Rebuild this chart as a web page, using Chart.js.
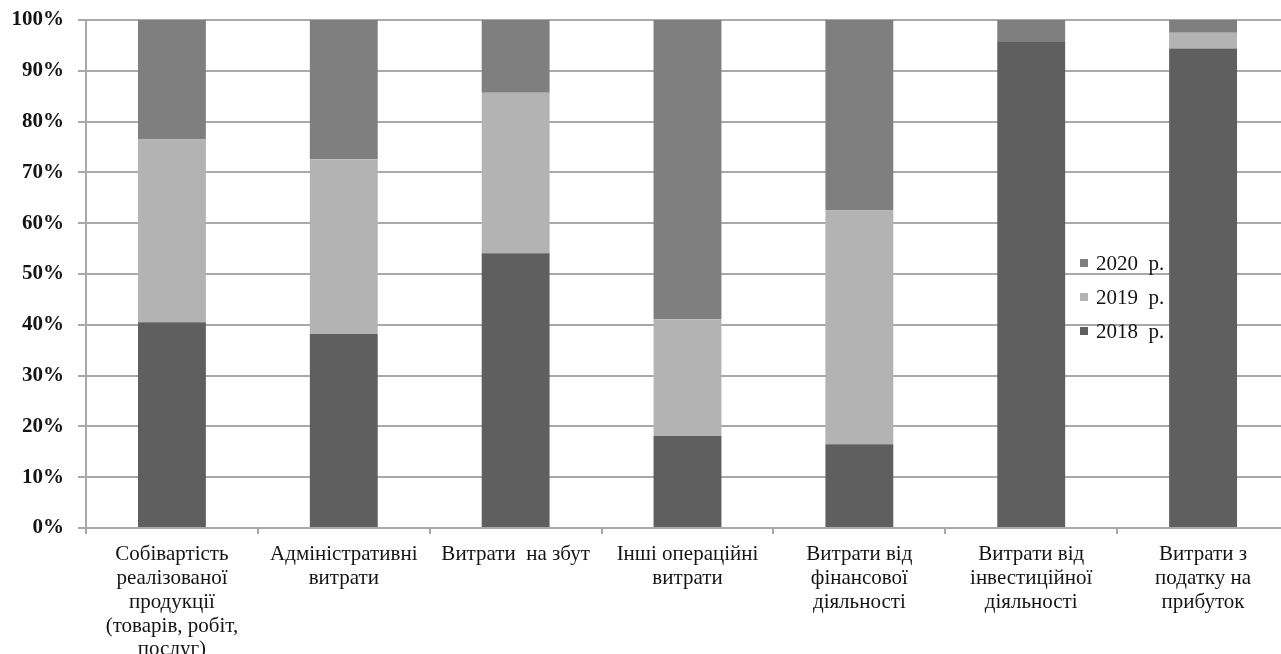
<!DOCTYPE html>
<html lang="uk">
<head>
<meta charset="utf-8">
<title>Структура витрат, 2018–2020 рр.</title>
<script src="https://cdn.jsdelivr.net/npm/chart.js@4.4.1/dist/chart.umd.min.js"></script>
<style>
  html, body { margin: 0; padding: 0; background: #ffffff; overflow: hidden; }
  #wrap { position: relative; width: 1289px; height: 654px; }
</style>
</head>
<body>
<div id="wrap"><canvas id="chart"></canvas></div>
<script>
// Cost categories (each label is split into the lines it is printed on)
const categories = [
  ['Собівартість', 'реалізованої', 'продукції', '(товарів, робіт,', 'послуг)'],
  ['Адміністративні', 'витрати'],
  ['Витрати  на збут'],
  ['Інші операційні', 'витрати'],
  ['Витрати від', 'фінансової', 'діяльності'],
  ['Витрати від', 'інвестиційної', 'діяльності'],
  ['Витрати з', 'податку на', 'прибуток']
];

// Share of each year in the three-year total, %
const share2018 = [40.5, 38.2, 54.1, 18.1, 16.5, 95.8, 94.4];
const share2019 = [36.0, 34.4, 31.6, 23.0, 46.0, 0.0, 3.1];
const share2020 = [23.5, 27.4, 14.3, 58.9, 37.5, 4.2, 2.5];

const seriesNames = ['2018  р.', '2019  р.', '2020  р.'];
const yTicks = [0, 10, 20, 30, 40, 50, 60, 70, 80, 90, 100];

const colors = ['#5f5f5f', '#b3b3b3', '#7f7f7f'];
const gridColor = '#a9a9a9';
const textColor = '#141414';
const serif = "'Liberation Serif', 'Times New Roman', serif";

// Legend painted under the columns (after the grid, before the bars)
const innerLegend = {
  id: 'innerLegend',
  beforeDatasetsDraw(chart) {
    const ctx = chart.ctx;
    const items = chart.data.datasets.map(d => ({ text: d.label, color: d.backgroundColor })).reverse();
    const x0 = 1080, y0 = 263, step = 34;
    ctx.save();
    ctx.font = '21px ' + serif;
    ctx.textBaseline = 'middle';
    ctx.textAlign = 'left';
    items.forEach((it, i) => {
      const y = y0 + i * step;
      ctx.fillStyle = it.color;
      ctx.fillRect(x0, y - 4, 8, 8);
      ctx.fillStyle = textColor;
      ctx.fillText(it.text, x0 + 16, y + 1);
    });
    ctx.restore();
  }
};

new Chart(document.getElementById('chart'), {
  type: 'bar',
  data: {
    labels: categories,
    datasets: [
      { label: seriesNames[0], data: share2018, backgroundColor: colors[0] },
      { label: seriesNames[1], data: share2019, backgroundColor: colors[1] },
      { label: seriesNames[2], data: share2020, backgroundColor: colors[2] }
    ]
  },
  options: {
    responsive: true,
    maintainAspectRatio: false,
    animation: false,
    layout: { padding: { top: 20, right: 0, bottom: 0, left: 0 } },
    datasets: { bar: { categoryPercentage: 1, barPercentage: 0.395, borderWidth: 0 } },
    plugins: {
      legend: { display: false },
      tooltip: { enabled: false }
    },
    scales: {
      x: {
        stacked: true,
        border: { display: true, color: gridColor, width: 2 },
        grid: { display: true, drawOnChartArea: false, drawTicks: true, tickLength: 6, color: gridColor, lineWidth: 2, offset: true },
        ticks: {
          color: textColor,
          font: { family: serif, size: 21, lineHeight: 1.13 },
          padding: 9,
          maxRotation: 0,
          autoSkip: false
        },
        afterFit(scale) { scale.height = 126; scale.paddingLeft = 0; scale.paddingRight = 0; }
      },
      y: {
        stacked: true,
        min: 0,
        max: 100,
        border: { display: true, color: gridColor, width: 2 },
        grid: { color: gridColor, lineWidth: 2, drawTicks: true, tickLength: 8 },
        afterBuildTicks(scale) { scale.ticks = yTicks.map(v => ({ value: v })); },
        ticks: {
          color: textColor,
          font: { family: serif, size: 21, weight: 'bold' },
          padding: 14,
          callback: v => v + '%'
        },
        afterFit(scale) { scale.width = 86; scale.paddingTop = 0; scale.paddingBottom = 0; }
      }
    }
  },
  plugins: [innerLegend]
});
</script>
</body>
</html>
